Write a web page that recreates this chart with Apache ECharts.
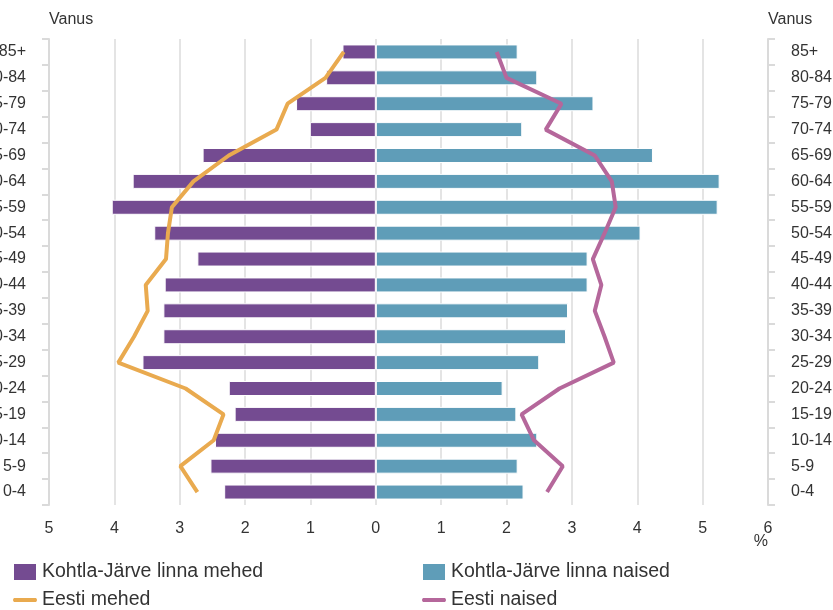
<!DOCTYPE html>
<html>
<head>
<meta charset="utf-8">
<script src="https://cdn.jsdelivr.net/npm/echarts@6/dist/echarts.min.js"></script>
<style>
html,body{margin:0;padding:0;background:#fff;}
#chart{width:833px;height:610px;}
</style>
</head>
<body>
<div id="chart"></div>
<script>
var ageGroups = ['0-4','5-9','10-14','15-19','20-24','25-29','30-34','35-39','40-44','45-49','50-54','55-59','60-64','65-69','70-74','75-79','80-84','85+'];
var kjMen   = [2.32, 2.53, 2.46, 2.16, 2.25, 3.57, 3.25, 3.25, 3.23, 2.73, 3.39, 4.04, 3.72, 2.65, 1.01, 1.22, 0.76, 0.51];
var kjWomen = [2.26, 2.17, 2.47, 2.15, 1.94, 2.50, 2.91, 2.94, 3.24, 3.24, 4.05, 5.23, 5.26, 4.24, 2.24, 3.33, 2.47, 2.17];
var estMen   = [2.73, 2.99, 2.48, 2.33, 2.91, 3.94, 3.70, 3.49, 3.52, 3.21, 3.18, 3.12, 2.79, 2.25, 1.52, 1.35, 0.77, 0.49];
var estWomen = [2.62, 2.86, 2.42, 2.23, 2.81, 3.64, 3.50, 3.35, 3.45, 3.32, 3.50, 3.67, 3.61, 3.35, 2.60, 2.84, 2.00, 1.85];
var xTicks = {min: -5, max: 6, interval: 1};

var FONT = 'Liberation Sans, Arial, sans-serif';
var TXT = '#333333';
var neg = function (a) { return a.map(function (v) { return -v; }); };
var LINE_ICON = 'path://M0,0 M24,18 M1,7 L23,7 Q25,9 23,11 L1,11 Q-1,9 1,7 Z';

var chart = echarts.init(document.getElementById('chart'));
var yAxisBase = function (pos) {
  return {
    type: 'category',
    position: pos,
    data: ageGroups,
    name: 'Vanus',
    nameLocation: 'end',
    nameGap: 19.5,
    nameMoveOverlap: false,
    nameTextStyle: {color: TXT, fontSize: 16, fontFamily: FONT, align: 'left', verticalAlign: 'middle'},
    axisLine: {show: true, onZero: false, lineStyle: {color: '#dadada', width: 2}},
    axisTick: {show: true, length: 7, lineStyle: {color: '#dadada', width: 2}},
    axisLabel: {color: TXT, fontSize: 16, fontFamily: FONT, margin: 23},
    splitLine: {show: false}
  };
};
var legendBase = function (left, names, icons) {
  return {
    orient: 'vertical', left: left, top: 562, padding: 0, height: 48,
    itemWidth: 24, itemHeight: 18, itemGap: 8,
    textStyle: {color: TXT, fontSize: 19.5, fontFamily: FONT},
    data: names.map(function (n, i) { return {name: n, icon: icons[i]}; })
  };
};
chart.setOption({
  animation: false,
  textStyle: {fontFamily: FONT},
  grid: {left: 49, right: 65, top: 39, bottom: 105, containLabel: false, outerBoundsMode: 'none'},
  xAxis: {
    type: 'value',
    min: xTicks.min, max: xTicks.max, interval: xTicks.interval,
    name: '%',
    nameLocation: 'end',
    nameGap: 0,
    nameMoveOverlap: false,
    nameTextStyle: {color: TXT, fontSize: 16, fontFamily: FONT, align: 'right', verticalAlign: 'top', padding: [29, 0, 0, 0]},
    axisLine: {show: false},
    axisTick: {show: false},
    axisLabel: {color: TXT, fontSize: 16, fontFamily: FONT, margin: 16, formatter: function (v) { return Math.abs(v); }},
    splitLine: {show: true, lineStyle: {color: '#e4e4e4', width: 2}}
  },
  yAxis: [yAxisBase('left'), yAxisBase('right')],
  legend: [
    legendBase(12, ['Kohtla-Järve linna mehed', 'Eesti mehed'], ['rect', LINE_ICON]),
    legendBase(421, ['Kohtla-Järve linna naised', 'Eesti naised'], ['rect', LINE_ICON])
  ],
  series: [{
    name: 'Kohtla-Järve linna mehed', type: 'bar', stack: 'kj', yAxisIndex: 0,
    barWidth: 15,
    itemStyle: {color: '#744b91', borderColor: '#ffffff', borderWidth: 1},
    data: neg(kjMen)
  }, {
    name: 'Kohtla-Järve linna naised', type: 'bar', stack: 'kj', yAxisIndex: 0,
    barWidth: 15,
    itemStyle: {color: '#5f9db8', borderColor: '#ffffff', borderWidth: 1},
    data: kjWomen
  }, {
    name: 'Eesti mehed', type: 'line', yAxisIndex: 0, symbol: 'none', z: 5,
    lineStyle: {color: '#e9aa4f', width: 4},
    itemStyle: {color: '#e9aa4f'},
    data: neg(estMen)
  }, {
    name: 'Eesti naised', type: 'line', yAxisIndex: 0, symbol: 'none', z: 5,
    lineStyle: {color: '#b5679b', width: 4},
    itemStyle: {color: '#b5679b'},
    data: estWomen
  }]
});
</script>
</body>
</html>
